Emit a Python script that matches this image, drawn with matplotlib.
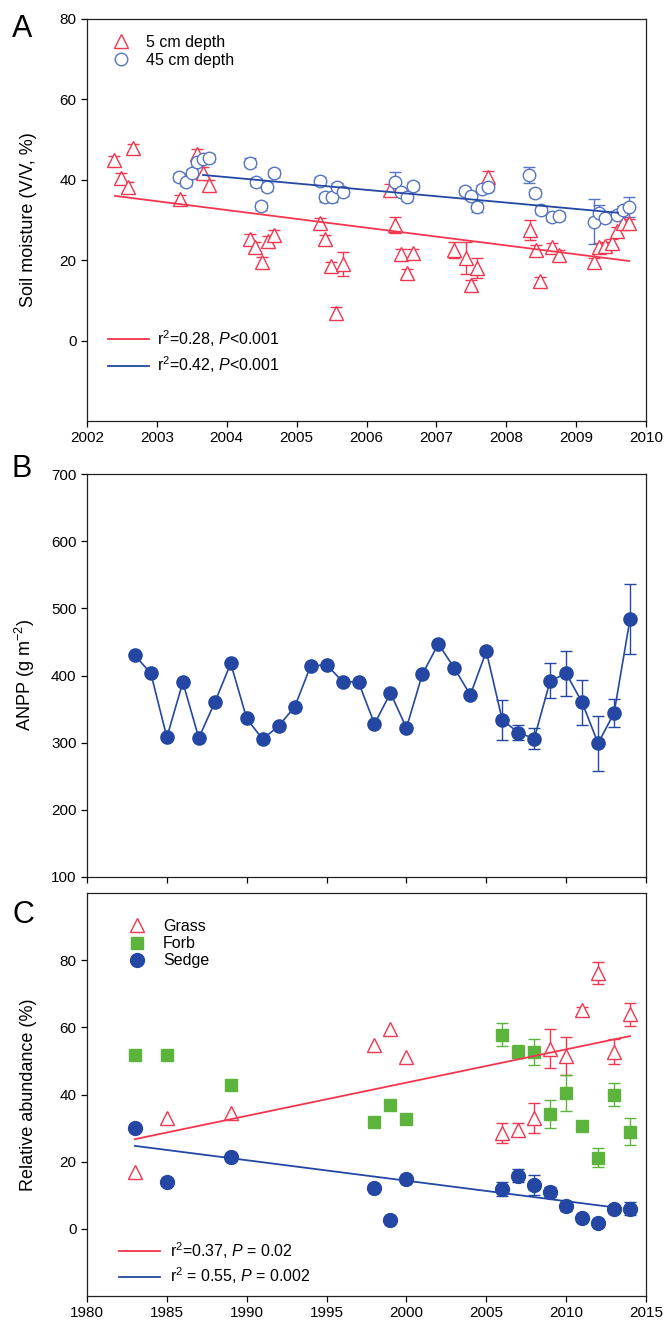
import matplotlib
matplotlib.use('Agg')
import matplotlib.pyplot as plt
from matplotlib.lines import Line2D
import numpy as np

plt.rcParams['font.family'] = ['Liberation Sans', 'DejaVu Sans']
plt.rcParams['mathtext.fontset'] = 'custom'
plt.rcParams['mathtext.rm'] = 'Liberation Sans'
plt.rcParams['mathtext.it'] = 'Liberation Sans:italic'

RED = '#f2364f'
BLUE_O = '#5575c4'
BLUE = '#2347a3'
GREEN = '#5db43c'

# ---- panel A: soil moisture ----
d5_year = [2002.39, 2002.49, 2002.59, 2002.66, 2003.33, 2003.58, 2003.66, 2003.75,
           2004.33, 2004.41, 2004.50, 2004.59, 2004.67,
           2005.33, 2005.41, 2005.49, 2005.57, 2005.67,
           2006.33, 2006.41, 2006.49, 2006.58, 2006.67,
           2007.25, 2007.42, 2007.50, 2007.58, 2007.74,
           2008.34, 2008.42, 2008.49, 2008.66, 2008.75,
           2009.26, 2009.33, 2009.42, 2009.51, 2009.59, 2009.67, 2009.76]
d5_val = [44.9, 40.4, 38.3, 47.8, 35.2, 46.4, 41.8, 38.7,
          25.3, 23.4, 19.6, 24.9, 26.3,
          29.3, 25.2, 18.6, 6.8, 19.1,
          37.5, 28.8, 21.5, 16.7, 21.7,
          22.5, 20.5, 13.8, 18.0, 40.8,
          27.5, 22.5, 14.9, 23.2, 21.3,
          19.6, 23.2, 23.6, 24.2, 27.3, 29.3, 29.2]
d5_err = [1.0, 1.2, 1.2, 1.0, 1.0, 1.2, 1.5, 1.2,
          1.2, 1.2, 1.2, 1.2, 1.2,
          1.2, 1.0, 1.0, 1.5, 3.0,
          1.5, 2.0, 1.2, 1.0, 1.2,
          2.0, 4.0, 1.2, 2.5, 1.5,
          2.5, 1.2, 1.0, 1.2, 1.2,
          1.0, 1.0, 1.0, 1.0, 1.0, 1.0, 1.0]

d45_year = [2003.32, 2003.42, 2003.50, 2003.58, 2003.66, 2003.75,
            2004.33, 2004.42, 2004.49, 2004.58, 2004.67,
            2005.33, 2005.41, 2005.50, 2005.58, 2005.67,
            2006.41, 2006.49, 2006.58, 2006.67,
            2007.41, 2007.50, 2007.58, 2007.66, 2007.74,
            2008.33, 2008.41, 2008.50, 2008.66, 2008.75,
            2009.25, 2009.33, 2009.42, 2009.58, 2009.67, 2009.75]
d45_val = [40.8, 39.5, 41.6, 44.5, 45.1, 45.5,
           44.3, 39.5, 33.5, 38.1, 41.6,
           39.7, 35.6, 35.6, 38.3, 36.9,
           39.5, 37.0, 35.8, 38.5,
           37.2, 36.0, 33.3, 37.7, 38.3,
           41.2, 36.6, 32.5, 30.7, 31.0,
           29.6, 31.7, 30.4, 31.3, 32.5, 33.3]
d45_err = [1.0, 1.0, 1.0, 1.0, 1.0, 1.0,
           1.0, 1.0, 1.0, 1.0, 1.0,
           1.0, 1.0, 1.0, 1.0, 1.0,
           2.5, 1.0, 1.0, 1.0,
           1.0, 1.0, 1.2, 1.0, 1.0,
           2.0, 1.0, 1.0, 1.0, 1.0,
           5.5, 2.0, 1.0, 1.0, 1.0, 2.5]

fit5_year = [2002.4, 2009.76]
fit5_val = [36.0, 19.8]
fit45_year = [2003.66, 2009.6]
fit45_val = [41.2, 31.8]

# ---- panel B: ANPP ----
anpp_year = list(range(1983, 2015))
anpp_val = [430, 403, 308, 390, 307, 360, 418, 336, 305, 325, 353, 414, 416, 391, 390, 328,
            374, 322, 402, 447, 411, 371, 436, 334, 315, 306, 392, 403, 360, 299, 344, 484]
anpp_err = [0, 0, 0, 0, 0, 0, 0, 0, 0, 0, 0, 0, 0, 0, 0, 0,
            0, 0, 0, 0, 0, 0, 0, 30, 11, 16, 26, 33, 34, 41, 21, 52]

# ---- panel C: relative abundance ----
c_year = [1983, 1985, 1989, 1998, 1999, 2000, 2006, 2007, 2008, 2009, 2010, 2011, 2012, 2013, 2014]
grass = [16.8, 33.0, 34.4, 54.8, 59.4, 51.2, 28.6, 29.5, 33.0, 53.6, 51.4, 65.1, 76.3, 52.8, 63.9]
grass_err = [0, 0, 0, 0, 0, 0, 3.0, 2.0, 4.5, 5.8, 5.6, 1.0, 3.3, 3.6, 3.4]
forb = [51.8, 51.8, 42.8, 31.7, 37.0, 32.7, 57.8, 52.8, 52.6, 34.2, 40.5, 30.6, 21.2, 40.0, 28.9]
forb_err = [0, 0, 0, 0, 0, 0, 3.5, 2.0, 3.9, 4.3, 5.3, 0, 2.8, 3.3, 4.0]
sedge = [30.1, 13.8, 21.3, 12.3, 2.6, 14.8, 11.9, 15.8, 13.0, 10.9, 6.8, 3.2, 1.8, 5.9, 6.0]
sedge_err = [0, 0, 0, 0, 0, 0, 2.0, 2.0, 3.0, 1.5, 1.5, 0, 0, 0, 2.0]

fitg_year = [1983, 2014]
fitg_val = [26.7, 57.4]
fits_year = [1983, 2013]
fits_val = [24.7, 6.4]

W, H = 666, 1326
fig = plt.figure(figsize=(W / 100, H / 100), dpi=100)


def box(top, bottom, left=87, right=646):
    return [left / W, 1 - bottom / H, (right - left) / W, (bottom - top) / H]


axA = fig.add_axes(box(19, 421))
axB = fig.add_axes(box(474, 877))
axC = fig.add_axes(box(893, 1296))

for ax in (axA, axB, axC):
    ax.tick_params(direction='out', length=4, width=0.9, labelsize=11, top=False, right=False)
    for s in ax.spines.values():
        s.set_linewidth(0.9)
        s.set_color('#222222')

# A
axA.errorbar(d5_year, d5_val, yerr=d5_err, fmt='^', ms=9.5, mfc='white', mec=RED, mew=1.0,
             ecolor=RED, elinewidth=1.0, capsize=4, capthick=1.0, zorder=3)
axA.errorbar(d45_year, d45_val, yerr=d45_err, fmt='o', ms=9, mfc='white', mec=BLUE_O, mew=1.0,
             ecolor=BLUE_O, elinewidth=1.0, capsize=4, capthick=1.0, zorder=3)
axA.plot(fit5_year, fit5_val, color=RED, lw=1.3, zorder=4)
axA.plot(fit45_year, fit45_val, color=BLUE, lw=1.3, zorder=4)
axA.set_xlim(2002, 2010)
axA.set_ylim(-20, 80)
axA.set_xticks(range(2002, 2011))
axA.set_yticks([0, 20, 40, 60, 80])
axA.set_ylabel('Soil moisture (V/V, %)', fontsize=13)
axA.yaxis.set_label_coords(-0.09, 0.5)

legA1 = axA.legend([Line2D([], [], ls='none', marker='^', ms=9.5, mfc='white', mec=RED),
                    Line2D([], [], ls='none', marker='o', ms=9, mfc='white', mec=BLUE_O)],
                   ['5 cm depth', '45 cm depth'], loc='upper left', bbox_to_anchor=(0.02, 0.985),
                   frameon=False, fontsize=11.5, handlelength=1.6, handletextpad=0.8,
                   labelspacing=0.2, borderaxespad=0.2)
axA.add_artist(legA1)
axA.legend([Line2D([], [], color=RED, lw=1.3), Line2D([], [], color=BLUE, lw=1.3)],
           [r'r$^2$=0.28, $P$<0.001', r'r$^2$=0.42, $P$<0.001'], loc='lower left',
           bbox_to_anchor=(0.02, 0.09), frameon=False, fontsize=11.5, handlelength=2.6,
           handletextpad=0.5, labelspacing=0.35, borderaxespad=0.2)

# B
anpp_err = np.array(anpp_err, dtype=float)
has_err = anpp_err > 0
axB.plot(anpp_year, anpp_val, '-', color=BLUE, lw=1.2, zorder=2)
axB.errorbar(np.array(anpp_year)[has_err], np.array(anpp_val)[has_err], yerr=anpp_err[has_err],
             fmt='none', ecolor=BLUE, elinewidth=1.0, capsize=4, capthick=1.0, zorder=2)
axB.plot(anpp_year, anpp_val, 'o', ms=9.5, color=BLUE, zorder=3)
axB.set_xlim(1980, 2015)
axB.set_ylim(100, 700)
axB.set_xticks(range(1980, 2016, 5))
axB.set_xticklabels([])
axB.set_yticks(range(100, 701, 100))
axB.set_ylabel(r'ANPP (g m$^{-2}$)', fontsize=13)
axB.yaxis.set_label_coords(-0.09, 0.5)


# C
def eb(ax, y, err, color):
    y = np.array(y)
    err = np.array(err, dtype=float)
    m = err > 0
    ax.errorbar(np.array(c_year)[m], y[m], yerr=err[m], fmt='none', ecolor=color,
                elinewidth=1.0, capsize=4, capthick=1.0, zorder=2)


eb(axC, grass, grass_err, RED)
eb(axC, forb, forb_err, GREEN)
eb(axC, sedge, sedge_err, BLUE)
axC.plot(c_year, grass, ls='none', marker='^', ms=10, mfc='white', mec=RED, mew=1.0, zorder=3)
axC.plot(c_year, forb, ls='none', marker='s', ms=8.5, color=GREEN, zorder=3)
axC.plot(c_year, sedge, ls='none', marker='o', ms=10, color=BLUE, zorder=3)
axC.plot(fitg_year, fitg_val, color=RED, lw=1.3, zorder=4)
axC.plot(fits_year, fits_val, color=BLUE, lw=1.3, zorder=4)
axC.set_xlim(1980, 2015)
axC.set_ylim(-20, 100)
axC.set_xticks(range(1980, 2016, 5))
axC.set_yticks([0, 20, 40, 60, 80])
axC.set_ylabel('Relative abundance (%)', fontsize=13)
axC.yaxis.set_label_coords(-0.09, 0.5)

legC1 = axC.legend([Line2D([], [], ls='none', marker='^', ms=10, mfc='white', mec=RED),
                    Line2D([], [], ls='none', marker='s', ms=8.5, color=GREEN),
                    Line2D([], [], ls='none', marker='o', ms=10, color=BLUE)],
                   ['Grass', 'Forb', 'Sedge'], loc='upper left', bbox_to_anchor=(0.05, 0.96),
                   frameon=False, fontsize=11.5, handlelength=1.6, handletextpad=0.8,
                   labelspacing=0.15, borderaxespad=0.2)
axC.add_artist(legC1)
axC.legend([Line2D([], [], color=RED, lw=1.3), Line2D([], [], color=BLUE, lw=1.3)],
           [r'r$^2$=0.37, $P$ = 0.02', r'r$^2$ = 0.55, $P$ = 0.002'], loc='lower left',
           bbox_to_anchor=(0.04, 0.0), frameon=False, fontsize=11.5, handlelength=2.6,
           handletextpad=0.6, labelspacing=0.3, borderaxespad=0.2)

for lab, yb in (('A', 37), ('B', 477), ('C', 923)):
    fig.text(12 / W, 1 - yb / H, lab, fontsize=22, va='baseline', ha='left')

fig.savefig('out.png', dpi=100)
